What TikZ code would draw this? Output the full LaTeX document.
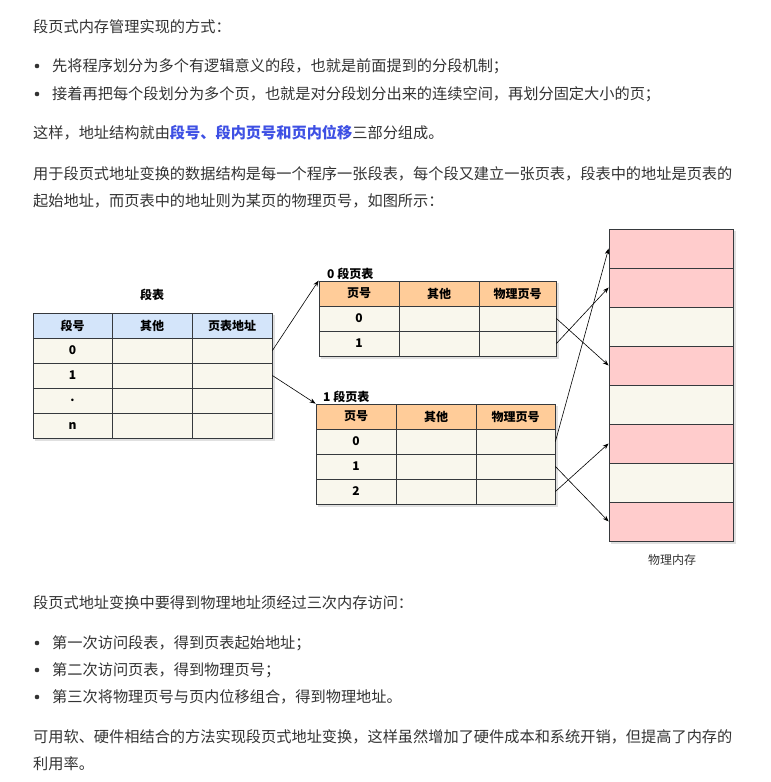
\documentclass[tikz,border=0pt]{standalone}
\usepackage{fontspec}
\setmainfont{Noto Sans CJK SC}
\usetikzlibrary{arrows.meta}
\definecolor{txt}{HTML}{333333}
\definecolor{linkblue}{RGB}{62,80,228}
\definecolor{bd}{HTML}{36393D}
\definecolor{segblue}{HTML}{D4E5FA}
\definecolor{orangeh}{HTML}{FFCC99}
\definecolor{creamc}{HTML}{F9F7ED}
\definecolor{pinkm}{HTML}{FFCCCC}
\tikzset{
  para/.style={anchor=base west, inner sep=0pt, text=txt, font=\fontsize{15.2}{15.2}\selectfont},
  dotb/.style={circle, fill=txt, inner sep=0pt, minimum size=4.6pt},
  cell/.style={draw=bd, line width=0.8pt, inner sep=0pt, text=black, font=\fontsize{12}{12}\selectfont\bfseries},
  lbl/.style={inner sep=0pt, text=black, font=\fontsize{12}{12}\selectfont\bfseries},
  arr/.style={draw=black, line width=0.6pt, -{Stealth[length=6pt,width=4.5pt]}},
  shd/.style={fill=black, fill opacity=0.12, draw=none},
}
\begin{document}
\begin{tikzpicture}[x=1pt,y=-1pt]
\useasboundingbox[fill=white] (0,0) rectangle (771,782);

% ---------- text above ----------
\node[para] (l1) at (33,32.7) {段页式内存管理实现的方式：};
\node[dotb] (b1) at (37,66) {};
\node[para] (t1) at (52,71.7) {先将程序划分为多个有逻辑意义的段，也就是前面提到的分段机制；};
\node[dotb] (b2) at (37,94) {};
\node[para] (t2) at (52,99.7) {接着再把每个段划分为多个页，也就是对分段划分出来的连续空间，再划分固定大小的页；};
\node[para] (l3) at (33,138.7) {这样，地址结构就由{\bfseries\color{linkblue}段号、段内页号和页内位移}三部分组成。};
\node[para] (l4) at (33,179.7) {用于段页式地址变换的数据结构是每一个程序一张段表，每个段又建立一张页表，段表中的地址是页表的};
\node[para] (l5) at (33,206.7) {起始地址，而页表中的地址则为某页的物理页号，如图所示：};

% ---------- segment table ----------
\node[lbl] (segtitle) at (152,295) {段表};
\fill[shd] (35,315) rectangle (275,441);
\foreach \c/\xa/\xb/\t in {0/33/112/段号,1/112/192/其他,2/192/272/页表地址}{
  \node[cell, fill=segblue, minimum width={(\xb-\xa)*1pt}, minimum height=25pt]
    (seg-h-\c) at ({(\xa+\xb)/2},325.5) {\t};
}
\foreach \r/\lab in {0/0,1/1,2/.,3/n}{
  \foreach \c/\xa/\xb in {0/33/112,1/112/192,2/192/272}{
    \node[cell, fill=creamc, minimum width={(\xb-\xa)*1pt}, minimum height=25pt]
      (seg-\r-\c) at ({(\xa+\xb)/2},{350.5+25*\r}) {\ifnum\c=0 \lab\fi};
  }
}

% ---------- page table 0 ----------
\node[lbl, anchor=west] (t0title) at (327,274) {0 段页表};
\fill[shd] (321,283) rectangle (559,359);
\foreach \c/\xa/\xb/\t in {0/319/399/页号,1/399/479/其他,2/479/556/物理页号}{
  \node[cell, fill=orangeh, minimum width={(\xb-\xa)*1pt}, minimum height=25pt]
    (t0-h-\c) at ({(\xa+\xb)/2},293.5) {\t};
}
\foreach \r in {0,1}{
  \foreach \c/\xa/\xb in {0/319/399,1/399/479,2/479/556}{
    \node[cell, fill=creamc, minimum width={(\xb-\xa)*1pt}, minimum height=25pt]
      (t0-\r-\c) at ({(\xa+\xb)/2},{318.5+25*\r}) {\ifnum\c=0 \r\fi};
  }
}

% ---------- page table 1 ----------
\node[lbl, anchor=west] (t1title) at (323,397) {1 段页表};
\fill[shd] (318,406) rectangle (558,507);
\foreach \c/\xa/\xb/\t in {0/316/396/页号,1/396/476/其他,2/476/555/物理页号}{
  \node[cell, fill=orangeh, minimum width={(\xb-\xa)*1pt}, minimum height=25pt]
    (t1-h-\c) at ({(\xa+\xb)/2},416.5) {\t};
}
\foreach \r in {0,1,2}{
  \foreach \c/\xa/\xb in {0/316/396,1/396/476,2/476/555}{
    \node[cell, fill=creamc, minimum width={(\xb-\xa)*1pt}, minimum height=25pt]
      (t1-\r-\c) at ({(\xa+\xb)/2},{441.5+25*\r}) {\ifnum\c=0 \r\fi};
  }
}

% ---------- physical memory ----------
\fill[shd] (611,231) rectangle (736,544);
\foreach \i/\col in {0/pinkm,1/pinkm,2/creamc,3/pinkm,4/creamc,5/pinkm,6/creamc,7/pinkm}{
  \node[cell, fill=\col, minimum width=124pt, minimum height=39pt]
    (mem\i) at (671,{248.5+39*\i}) {};
}
\node[inner sep=0pt, text=txt, font=\fontsize{12}{12}\selectfont] (memlbl) at (672,560) {物理内存};

% ---------- arrows ----------
\draw[arr] (seg-0-2.east) -- (t0-h-0.north west);
\draw[arr] (seg-1-2.east) -- (t1-h-0.north west);
\draw[arr] (t0-0-2.east) -- (mem3.west);
\draw[arr] (t0-1-2.east) -- (mem1.west);
\draw[arr] (t1-0-2.east) -- (mem0.west);
\draw[arr] (t1-1-2.east) -- (mem7.west);
\draw[arr] (t1-2-2.east) -- (mem5.west);

% ---------- text below ----------
\node[para] (l6) at (33,608.7) {段页式地址变换中要得到物理地址须经过三次内存访问：};
\node[dotb] (b3) at (37,643) {};
\node[para] (t3) at (52,648.7) {第一次访问段表，得到页表起始地址；};
\node[dotb] (b4) at (37,670) {};
\node[para] (t4) at (52,675.7) {第二次访问页表，得到物理页号；};
\node[dotb] (b5) at (37,697) {};
\node[para] (t5) at (52,702.7) {第三次将物理页号与页内位移组合，得到物理地址。};
\node[para] (l7) at (33,742.7) {可用软、硬件相结合的方法实现段页式地址变换，这样虽然增加了硬件成本和系统开销，但提高了内存的};
\node[para] (l8) at (33,769.7) {利用率。};
\end{tikzpicture}
\end{document}
